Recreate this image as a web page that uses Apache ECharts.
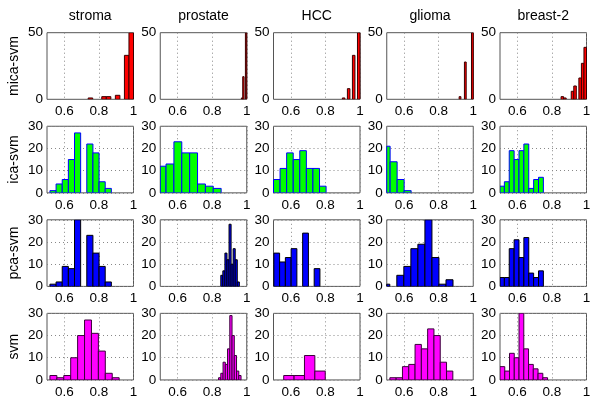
<!DOCTYPE html>
<html><head><meta charset="utf-8">
<script src="https://cdn.jsdelivr.net/npm/echarts@6/dist/echarts.min.js"></script>
<style>html,body{margin:0;padding:0;background:#fff}#c{width:600px;height:405px}</style>
</head><body><div id="c"></div>
<script>
// ---- data ----
const columns = ['stroma', 'prostate', 'HCC', 'glioma', 'breast-2'];
const rowNames = ['mica-svm', 'ica-svm', 'pca-svm', 'svm'];
const xTickValues = [0.6, 0.8, 1];
const yMaxByRow = [50, 30, 30, 30];
const yStepByRow = [50, 10, 10, 10];

// histogram bins per row: first bin edge, bin width, counts (one list per column)
const micaStart = [0.738, 0.9225, 0.898, 0.898, 0.853];
const micaWidth = [0.0262, 0.00775, 0.01457, 0.0102, 0.0147];
const micaCounts = [
  [1, 0, 0, 2, 2, 0, 3, 0, 33, 60],
  [0, 0, 0, 0, 0, 0, 1, 17, 0, 80],
  [1, 0, 8, 0, 33, 0, 60],
  [0, 0, 2, 0, 0, 28, 0, 0, 0, 70],
  [2, 1, 0, 0, 6, 10, 0, 16, 27, 39]
];
const icaStart = [0.517, 0.488, 0.5, 0.479, 0.497];
const icaWidth = [0.0355, 0.0455, 0.038, 0.0405, 0.0282];
const icaCounts = [
  [1, 4, 6, 15, 27, 0, 22, 18, 5, 2],
  [12, 13, 23, 18, 18, 4, 3, 2],
  [6, 11, 18, 15, 19, 11, 11, 3],
  [21, 14, 6, 1],
  [3, 5, 19, 15, 19, 22, 2, 6, 7]
];
const pcaStart = [0.517, 0.85, 0.502, 0.477, 0.497];
const pcaWidth = [0.0355, 0.0119, 0.0333, 0.0406, 0.0282];
const pcaCounts = [
  [1, 2, 9, 8, 33, 0, 23, 15, 9, 2],
  [5, 7, 15, 12, 28, 10, 17, 12, 2, 0],
  [15, 11, 13, 17, 0, 24, 0, 8],
  [1, 0, 5, 9, 17, 19, 32, 13, 1, 3],
  [4, 4, 17, 21, 13, 22, 6, 4, 7]
];
const svmStart = [0.517, 0.837, 0.559, 0.518, 0.5];
const svmWidth = [0.040, 0.013, 0.06, 0.0364, 0.0275];
const svmCounts = [
  [2, 1, 2, 10, 20, 27, 21, 13, 3, 1],
  [1, 3, 8, 7, 14, 29, 20, 11, 4, 2],
  [2, 2, 11, 4],
  [1, 1, 6, 7, 16, 14, 23, 20, 8, 4],
  [6, 4, 12, 10, 35, 14, 7, 5, 3, 1]
];

// ---- styling ----
const rowData = [
  {start: micaStart, width: micaWidth, counts: micaCounts, fill: '#ff0000', edge: '#3a0000'},
  {start: icaStart, width: icaWidth, counts: icaCounts, fill: '#00ff00', edge: '#0000ff'},
  {start: pcaStart, width: pcaWidth, counts: pcaCounts, fill: '#0000ff', edge: '#000000'},
  {start: svmStart, width: svmWidth, counts: svmCounts, fill: '#ff00ff', edge: '#3a003a'}
];
const FONT = 'Liberation Sans, Arial, sans-serif';
const gridLeft0 = 47, colStep = 113.25, gridW = 86.5;
const gridTop0 = 32.7, rowStep = 93.55, gridH = 66.6;

const grids = [], xAxes = [], yAxes = [], series = [], graphics = [];

function renderBar(edge) {
  return function (params, api) {
    const x0 = api.value(0), x1 = api.value(1), v = api.value(2);
    if (!v) return null;
    const p0 = api.coord([x0, v]);
    const p1 = api.coord([x1, 0]);
    const cs = params.coordSys;
    const r = echarts.graphic.clipRectByRect(
      {x: p0[0], y: p0[1], width: p1[0] - p0[0], height: p1[1] - p0[1]},
      {x: cs.x, y: cs.y, width: cs.width, height: cs.height});
    if (!r) return null;
    return {type: 'rect', shape: r, style: {fill: api.visual('color'), stroke: edge, lineWidth: 1}};
  };
}

for (let r = 0; r < 4; r++) {
  for (let c = 0; c < 5; c++) {
    const idx = r * 5 + c;
    grids.push({left: gridLeft0 + c * colStep, top: gridTop0 + r * rowStep, width: gridW, height: gridH,
      show: true, borderColor: '#555', borderWidth: 1, backgroundColor: '#fff', containLabel: false});
    xAxes.push({type: 'value', gridIndex: idx, min: 0.5, max: 1,
      axisLine: {show: false}, axisTick: {show: false, customValues: xTickValues},
      axisLabel: {customValues: xTickValues, fontSize: 13.5, color: '#000', fontFamily: FONT, margin: 5,
        formatter: v => String(+v.toFixed(2)), showMinLabel: true, showMaxLabel: true},
      splitLine: {show: true, lineStyle: {type: [1, 3], color: '#888', width: 1}}});
    yAxes.push({type: 'value', gridIndex: idx, min: 0, max: yMaxByRow[r], interval: yStepByRow[r],
      axisLine: {show: false}, axisTick: {show: false},
      axisLabel: {fontSize: 13.5, color: '#000', fontFamily: FONT, margin: 4},
      splitLine: {show: r > 0, lineStyle: {type: [1, 3], color: '#888', width: 1}}});
    const rd = rowData[r];
    const counts = rd.counts[c];
    const data = counts.map((n, i) => [rd.start[c] + i * rd.width[c], rd.start[c] + (i + 1) * rd.width[c], n]);
    series.push({type: 'custom', xAxisIndex: idx, yAxisIndex: idx, data: data,
      itemStyle: {color: rd.fill}, renderItem: renderBar(rd.edge), clip: true, silent: true});
  }
}
columns.forEach((t, c) => graphics.push({type: 'text', x: gridLeft0 + c * colStep + gridW / 2, y: 16.5,
  style: {text: t, fontSize: 14, fontFamily: FONT, fill: '#000', textAlign: 'center', textVerticalAlign: 'middle'}}));
rowNames.forEach((t, r) => graphics.push({type: 'text', x: 14, y: gridTop0 + r * rowStep + gridH / 2, rotation: Math.PI / 2,
  style: {text: t, fontSize: 14, fontFamily: FONT, fill: '#000', textAlign: 'center', textVerticalAlign: 'middle'}}));

const chart = echarts.init(document.getElementById('c'), null, {renderer: 'canvas'});
chart.setOption({animation: false, backgroundColor: '#fff', grid: grids, xAxis: xAxes, yAxis: yAxes,
  series: series, graphic: graphics});
</script></body></html>
